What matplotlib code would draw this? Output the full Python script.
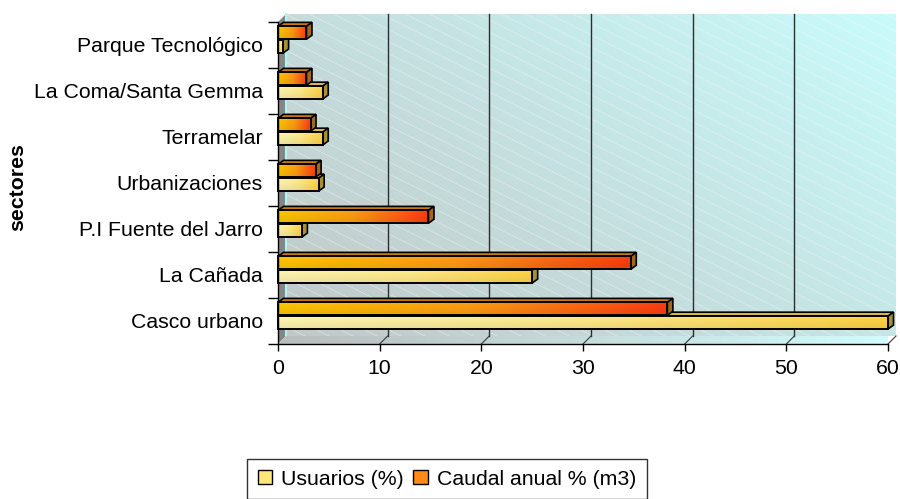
import numpy as np
import matplotlib
matplotlib.use("Agg")
import matplotlib.pyplot as plt
from matplotlib.patches import Rectangle, Polygon, Patch
from matplotlib.colors import LinearSegmentedColormap, to_rgb

# ---------------- data ----------------
sectores = ["Casco urbano", "La Cañada", "P.I Fuente del Jarro", "Urbanizaciones",
            "Terramelar", "La Coma/Santa Gemma", "Parque Tecnológico"]
usuarios = [60.0, 25.0, 2.35, 4.0, 4.4, 4.4, 0.5]
caudal = [38.3, 34.7, 14.8, 3.7, 3.2, 2.8, 2.8]
xticks = [0, 10, 20, 30, 40, 50, 60]
series_labels = ["Usuarios (%)", "Caudal anual % (m3)"]
ylabel = "sectores"

plt.rcParams["font.family"] = ["Liberation Sans", "DejaVu Sans"]
FS = 15.3

W, H = 900, 499
fig = plt.figure(figsize=(W / 100, H / 100), dpi=100)
L, R, B, T = 278, 888, 344, 22
ax = fig.add_axes([L / W, 1 - B / H, (R - L) / W, (B - T) / H])
ncat = len(sectores)
xmax = xticks[-1]
ymin, ymax = -0.5, ncat - 0.5
ax.set_xlim(0, xmax)
ax.set_ylim(ymin, ymax)
ax.patch.set_visible(False)

pxx = xmax / (R - L)
pxy = ncat / (B - T)
wdx, wdy = 8 * pxx, 8 * pxy      # wall depth
bdx, bdy = 5.5 * pxx, 4 * pxy    # bar depth

# ---------------- back wall ----------------
ww, wh = R - L, B - T
cc, rr = np.meshgrid(np.arange(ww), np.arange(wh))
u = cc / ww
v = 1 - rr / wh
t = np.clip(0.6 * u + 0.4 * v, 0, 1)[..., None]
c_lo = np.array(to_rgb("#c2c8c8"))
c_hi = np.array(to_rgb("#c9fbfb"))
wall = c_lo * (1 - t) + c_hi * t
stripe = (((rr - 0.5 * cc) % 12) < 1.0)[..., None]
wall = np.where(stripe, wall * 0.68 + 0.32, wall)
ax.imshow(wall, extent=[wdx, xmax + wdx, ymin + wdy, ymax + wdy], origin="upper",
          aspect="auto", interpolation="nearest", zorder=0, clip_on=False)

# left side wall
ax.add_patch(Polygon([(0, ymin), (wdx, ymin + wdy), (wdx, ymax + wdy), (0, ymax)],
                     closed=True, fc="#858585", ec="none", zorder=0.5, clip_on=False))
ax.plot([wdx, wdx], [ymin + wdy, ymax + wdy], color="#b4f2f2", lw=1.5, zorder=0.6,
        clip_on=False)

# floor
floor = Polygon([(0, ymin), (xmax, ymin), (xmax + wdx, ymin + wdy), (wdx, ymin + wdy)],
                closed=True, fc="none", ec="none", zorder=0.7, clip_on=False)
ax.add_patch(floor)
fg = np.linspace(0, 1, 256)[None, :, None]
floor_img = np.array(to_rgb("#b9bdbd")) * (1 - fg) + np.array(to_rgb("#d2fcfc")) * fg
im = ax.imshow(floor_img, extent=[0, xmax + wdx, ymin, ymin + wdy], aspect="auto",
               zorder=0.7, clip_on=True)
im.set_clip_path(floor)

# gridlines on back wall + floor diagonals
for xt in xticks[1:-1]:
    ax.plot([xt + wdx, xt + wdx], [ymin + wdy, ymax + wdy], color="#2b2f2f", lw=1.0,
            zorder=1, clip_on=False)
for xt in xticks[1:]:
    ax.plot([xt, xt + wdx], [ymin, ymin + wdy], color="#3a3a3a", lw=0.8, zorder=1,
            clip_on=False)

# ---------------- bars ----------------
h = 0.28
off_u, off_c = -0.035, 0.265
cm_u = LinearSegmentedColormap.from_list("u", ["#fff6b4", "#ffec8a", "#ffd445"])
cm_c = LinearSegmentedColormap.from_list("c", ["#ffc800", "#ff9c12", "#ff3c10"])
grad = np.linspace(0, 1, 256)[None, :]
vgrad = np.linspace(0, 1, 32)[:, None]


def bar3d(val, yc, cmap, topc, sidec, z):
    y0, y1 = yc - h / 2, yc + h / 2
    ax.add_patch(Polygon([(0, y1), (val, y1), (val + bdx, y1 + bdy), (bdx, y1 + bdy)],
                         closed=True, fc=topc, ec="black", lw=1.2, zorder=z,
                         clip_on=False, joinstyle="miter"))
    ax.add_patch(Polygon([(val, y0), (val + bdx, y0 + bdy), (val + bdx, y1 + bdy), (val, y1)],
                         closed=True, fc=sidec, ec="black", lw=1.2, zorder=z,
                         clip_on=False, joinstyle="miter"))
    front = Rectangle((0, y0), val, h, fc="none", ec="none", zorder=z + 0.1)
    ax.add_patch(front)
    rgba = cmap(grad * np.ones_like(vgrad))
    shade = (0.92 + 0.08 * vgrad)[..., None]
    rgba[..., :3] = np.clip(rgba[..., :3] * shade, 0, 1)
    img = ax.imshow(rgba, extent=[0, val, y0, y1], aspect="auto", origin="lower",
                    zorder=z + 0.1, interpolation="bilinear")
    img.set_clip_path(front)
    ax.add_patch(Rectangle((0, y0), val, h, fc="none", ec="black", lw=1.4,
                           zorder=z + 0.2, clip_on=False, joinstyle="miter"))


for i in range(ncat):
    bar3d(usuarios[i], i + off_u, cm_u, "#d8b845", "#a89030", 3 + i * 0.01)
    bar3d(caudal[i], i + off_c, cm_c, "#c87a10", "#a06818", 4 + i * 0.01)

ax.set_xlim(0, xmax)
ax.set_ylim(ymin, ymax)

# ---------------- axes styling ----------------
for s in ["top", "right"]:
    ax.spines[s].set_visible(False)
for s in ["left", "bottom"]:
    ax.spines[s].set_color("black")
    ax.spines[s].set_linewidth(1.0)
    ax.spines[s].set_zorder(6)

ax.set_xticks(xticks)
ax.set_xticklabels([str(x) for x in xticks], fontsize=FS)
ax.tick_params(axis="x", direction="out", length=5, width=1, pad=6, color="black")
ax.set_yticks(np.arange(-0.5, ncat, 1.0))
ax.set_yticklabels([])
ax.tick_params(axis="y", which="major", direction="out", length=7, width=1, color="black")
ax.set_yticks(np.arange(ncat), minor=True)
ax.set_yticklabels(sectores, minor=True, fontsize=FS)
ax.tick_params(axis="y", which="minor", length=0, pad=11)

fig.text(18 / W, 1 - 187 / H, ylabel, rotation=90, fontsize=FS, fontweight="bold",
         ha="center", va="center")

# ---------------- legend ----------------
handles = [Patch(facecolor="#ffe77a", edgecolor="black", lw=1.0),
           Patch(facecolor="#ff8a1a", edgecolor="black", lw=1.0)]
leg = fig.legend(handles, series_labels, loc="upper left", ncol=2,
                 bbox_to_anchor=(247 / W, 1 - 459 / H), fontsize=FS, frameon=True,
                 fancybox=False, handlelength=0.68, handleheight=0.68,
                 handletextpad=0.42, columnspacing=0.45, borderpad=0.5,
                 borderaxespad=0)
leg.get_frame().set_edgecolor("black")
leg.get_frame().set_linewidth(1.0)

fig.savefig("out.png", dpi=100)
